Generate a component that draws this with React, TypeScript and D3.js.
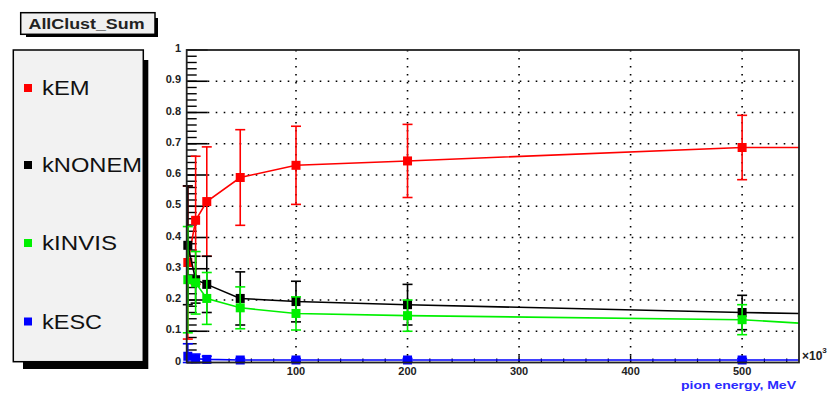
import React from "react";
import * as d3 from "d3";

// Pion energy points (×10³ MeV) and per-class fractions with errors
const energies = [3, 10, 20, 50, 100, 200, 500];
const tailEnergy = 551;

const seriesNames = ["kEM", "kNONEM", "kINVIS", "kESC"];
const seriesColors = ["#ff0000", "#000000", "#00f000", "#0000ff"];

const kEM = [0.32, 0.455, 0.515, 0.592, 0.631, 0.645, 0.688];
const kEMErr = [0.245, 0.205, 0.175, 0.153, 0.125, 0.117, 0.103];
const kNONEM = [0.375, 0.265, 0.25, 0.205, 0.195, 0.185, 0.16];
const kNONEMErr = [0.19, 0.075, 0.09, 0.085, 0.065, 0.065, 0.055];
const kINVIS = [0.265, 0.255, 0.205, 0.175, 0.157, 0.15, 0.137];
const kINVISErr = [0.17, 0.1, 0.083, 0.067, 0.053, 0.05, 0.048];
const kESC = [0.02, 0.012, 0.01, 0.008, 0.008, 0.008, 0.008];
const kESCErr = [0.04, 0.015, 0.01, 0.005, 0.005, 0.005, 0.005];

// value of each curve at the right edge of the axis
const tailValues = [0.688, 0.157, 0.126, 0.008];

const yTickLabels = ["0", "0.1", "0.2", "0.3", "0.4", "0.5", "0.6", "0.7", "0.8", "0.9", "1"];
const xTickLabels = ["100", "200", "300", "400", "500"];

const values = [kEM, kNONEM, kINVIS, kESC];
const errors = [kEMErr, kNONEMErr, kINVISErr, kESCErr];

const FONT = "'Liberation Sans', Arial, Helvetica, sans-serif";

export default function App() {
  const W = 831;
  const H = 397;
  const plot = { left: 186.7, right: 799, top: 50, bottom: 362.5 };

  const x = d3.scaleLinear().domain([2, 551]).range([plot.left, plot.right]);
  const y = d3.scaleLinear().domain([0, 1]).range([plot.bottom, plot.top]);

  const line = d3
    .line<[number, number]>()
    .x((d) => x(d[0]))
    .y((d) => y(d[1]))
    .curve(d3.curveLinear);

  const yMinor = d3.range(0, 1.0001, 0.02);
  const yMajor = yTickLabels.map((t) => +t);
  const xMinor = d3.range(20, 551, 20);
  const xMajor = xTickLabels.map((t) => +t);

  const legendY = [88, 165, 243, 321.5];
  const legendW = [47.6, 100, 75, 60];

  return (
    <svg
      width={W}
      height={H}
      style={{ position: "absolute", left: 0, top: 0, background: "#fff" }}
      fontFamily={FONT}
    >
      {/* title box */}
      <rect x={26} y={18} width={132} height={19} fill="#000" />
      <rect x={20.7} y={12.7} width={134.3} height={21.6} fill="#f0f0f0" stroke="#000" strokeWidth={1.5} />
      <text x={28.5} y={29} fontSize={14.5} fontWeight="bold" fill="#222" textLength={116} lengthAdjust="spacingAndGlyphs">
        AllClust_Sum
      </text>

      {/* legend box */}
      <rect x={23} y={60} width={125.3} height={309} fill="#000" />
      <rect x={13.3} y={50} width={130} height={311.7} fill="#f2f2f2" stroke="#000" strokeWidth={1.5} />
      {seriesNames.map((name, i) => (
        <g key={name}>
          <rect x={24} y={legendY[i] - 4} width={8} height={8} fill={seriesColors[i]} />
          <text
            x={42}
            y={legendY[i] + 7}
            fontSize={19.5}
            fill="#111"
            textLength={legendW[i]}
            lengthAdjust="spacingAndGlyphs"
          >
            {name}
          </text>
        </g>
      ))}

      {/* grid */}
      {yMajor.slice(1, -1).map((v) => (
        <line
          key={"gy" + v}
          x1={plot.left + 21}
          x2={plot.right}
          y1={y(v)}
          y2={y(v)}
          stroke="#000"
          strokeWidth={1.6}
          strokeDasharray="1.6,6.4"
        />
      ))}
      {xMajor.map((v) => (
        <line
          key={"gx" + v}
          x1={x(v)}
          x2={x(v)}
          y1={plot.top}
          y2={plot.bottom}
          stroke="#000"
          strokeWidth={1.6}
          strokeDasharray="1.6,6.4"
        />
      ))}

      {/* y axis ticks */}
      {yMinor.map((v) => (
        <line key={"ym" + v} x1={plot.left} x2={plot.left + 10} y1={y(v)} y2={y(v)} stroke="#000" strokeWidth={1.4} />
      ))}
      {yMajor.map((v) => (
        <line key={"yM" + v} x1={plot.left} x2={plot.left + 21} y1={y(v)} y2={y(v)} stroke="#000" strokeWidth={1.6} />
      ))}
      {yTickLabels.map((t) => (
        <text
          key={"yl" + t}
          x={181}
          y={y(+t) + 2}
          fontSize={11}
          fontWeight="bold"
          fill="#222"
          textAnchor="end"
        >
          {t}
        </text>
      ))}

      {/* x axis ticks */}
      {xMinor.map((v) => (
        <line key={"xm" + v} x1={x(v)} x2={x(v)} y1={plot.bottom} y2={plot.bottom - 4} stroke="#000" strokeWidth={1.2} />
      ))}
      {xMajor.map((v) => (
        <line key={"xM" + v} x1={x(v)} x2={x(v)} y1={plot.bottom} y2={plot.bottom - 7} stroke="#000" strokeWidth={1.4} />
      ))}
      {xTickLabels.map((t) => (
        <text key={"xl" + t} x={x(+t)} y={375} fontSize={11} fontWeight="bold" fill="#222" textAnchor="middle">
          {t}
        </text>
      ))}
      <text x={802} y={360} fontSize={12} fontWeight="bold" fill="#222">
        ×10
        <tspan fontSize={8} dy={-7}>
          3
        </tspan>
      </text>
      <text x={681} y={389} fontSize={10.5} fontWeight="bold" fill="#2a2aff" textLength={115} lengthAdjust="spacingAndGlyphs">
        pion energy, MeV
      </text>

      {/* series */}
      {values.map((vals, si) => {
        const color = seriesColors[si];
        const pts: [number, number][] = energies.map((e, i) => [e, vals[i]]);
        pts.push([tailEnergy, tailValues[si]]);
        return (
          <g key={seriesNames[si]}>
            <path d={line(pts) || ""} fill="none" stroke={color} strokeWidth={1.6} />
            {energies.map((e, i) => {
              const cx = x(e);
              const lo = Math.max(0, vals[i] - errors[si][i]);
              const hi = vals[i] + errors[si][i];
              return (
                <g key={i}>
                  <line x1={cx} x2={cx} y1={y(lo)} y2={y(hi)} stroke={color} strokeWidth={1.6} />
                  <line x1={cx - 5} x2={cx + 5} y1={y(hi)} y2={y(hi)} stroke={color} strokeWidth={1.6} />
                  <line x1={cx - 5} x2={cx + 5} y1={y(lo)} y2={y(lo)} stroke={color} strokeWidth={1.6} />
                  <rect x={cx - 4.5} y={y(vals[i]) - 4.5} width={9} height={9} fill={color} />
                </g>
              );
            })}
          </g>
        );
      })}

      {/* frame */}
      <rect
        x={plot.left}
        y={plot.top}
        width={plot.right - plot.left}
        height={plot.bottom - plot.top}
        fill="none"
        stroke="#222"
        strokeWidth={1.8}
      />
    </svg>
  );
}
